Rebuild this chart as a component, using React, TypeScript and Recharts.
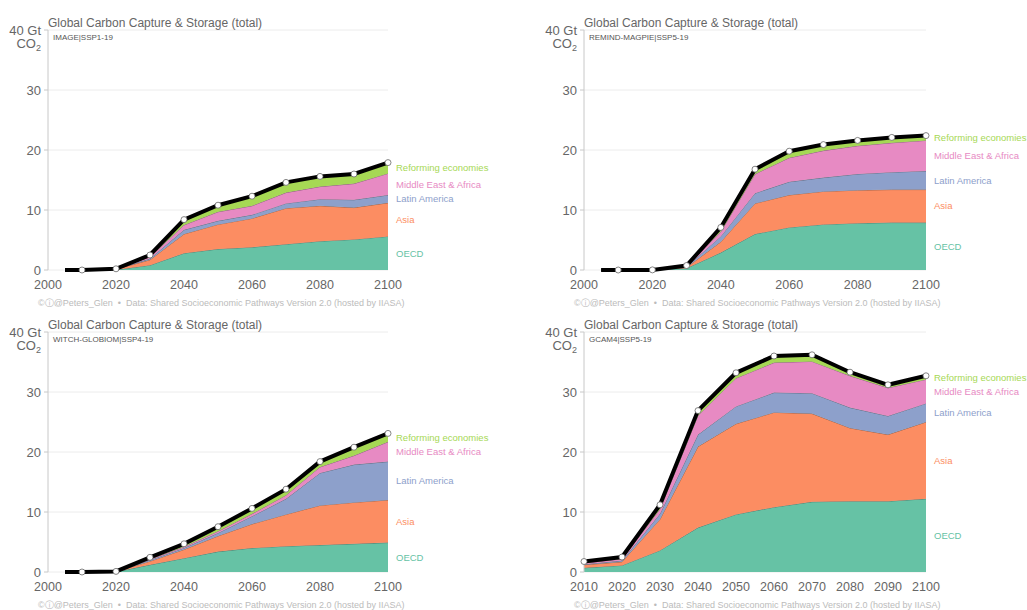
import React from 'react';
import { ComposedChart, Area, Line, XAxis, YAxis, CartesianGrid, ReferenceDot } from 'recharts';

// regions, bottom to top of the stack
const regions = ['OECD', 'Asia', 'Latin America', 'Middle East & Africa', 'Reforming economies'];
const regionColors = ['#66c2a5', '#fc8d62', '#8da0cb', '#e78ac3', '#a6d854'];

const yTicks = [0, 10, 20, 30, 40];

// IMAGE|SSP1-19
const imageYears = [2005, 2010, 2020, 2030, 2040, 2050, 2060, 2070, 2080, 2090, 2100];
const imageOecd = [0, 0, 0.05, 0.8, 2.8, 3.5, 3.8, 4.3, 4.8, 5.1, 5.6];
const imageAsia = [0, 0, 0.1, 0.9, 3.2, 4.1, 4.8, 6.0, 5.9, 5.3, 5.6];
const imageLatam = [0, 0, 0.02, 0.2, 0.7, 0.6, 0.6, 0.8, 1.1, 1.3, 1.3];
const imageMea = [0, 0, 0.02, 0.3, 0.8, 1.5, 1.5, 1.8, 2.1, 2.7, 3.6];
const imageRef = [0, 0, 0.01, 0.3, 0.9, 1.1, 1.6, 1.7, 1.7, 1.6, 1.8];

// REMIND-MAGPIE|SSP5-19
const remindYears = [2005, 2010, 2020, 2030, 2040, 2050, 2060, 2070, 2080, 2090, 2100];
const remindOecd = [0, 0, 0.01, 0.3, 2.9, 6.0, 7.1, 7.6, 7.8, 7.9, 7.9];
const remindAsia = [0, 0, 0.01, 0.15, 1.8, 5.1, 5.4, 5.5, 5.5, 5.5, 5.5];
const remindLatam = [0, 0, 0, 0.1, 0.9, 1.7, 2.2, 2.3, 2.7, 2.9, 3.1];
const remindMea = [0, 0, 0, 0.15, 0.8, 3.2, 4.0, 4.5, 4.7, 4.9, 5.1];
const remindRef = [0, 0, 0, 0.05, 0.7, 0.8, 1.1, 1.0, 0.9, 0.9, 0.8];

// WITCH-GLOBIOM|SSP4-19
const witchYears = [2005, 2010, 2020, 2030, 2040, 2050, 2060, 2070, 2080, 2090, 2100];
const witchOecd = [0, 0, 0.05, 1.2, 2.3, 3.4, 4.0, 4.3, 4.5, 4.7, 4.9];
const witchAsia = [0, 0, 0.03, 0.6, 1.45, 2.6, 4.0, 5.3, 6.6, 6.9, 7.1];
const witchLatam = [0, 0, 0.01, 0.2, 0.25, 0.5, 1.3, 2.6, 5.4, 6.3, 6.4];
const witchMea = [0, 0, 0.01, 0.15, 0.2, 0.3, 0.4, 0.6, 1.0, 1.5, 3.3];
const witchRef = [0, 0, 0, 0.3, 0.5, 0.75, 0.9, 1.0, 0.9, 1.4, 1.4];

// GCAM4|SSP5-19
const gcamYears = [2010, 2020, 2030, 2040, 2050, 2060, 2070, 2080, 2090, 2100];
const gcamOecd = [0.7, 1.1, 3.6, 7.4, 9.6, 10.8, 11.7, 11.8, 11.8, 12.2];
const gcamAsia = [0.5, 0.6, 5.2, 13.5, 15.1, 15.8, 14.7, 12.2, 11.1, 12.8];
const gcamLatam = [0.1, 0.2, 0.9, 2.0, 2.9, 3.3, 3.4, 3.4, 3.1, 3.1];
const gcamMea = [0.2, 0.3, 0.8, 3.2, 4.7, 5.0, 5.3, 5.3, 4.7, 4.0];
const gcamRef = [0.25, 0.3, 0.7, 0.8, 0.9, 1.1, 1.1, 0.6, 0.5, 0.6];

const font = '"Liberation Sans", Arial, Helvetica, sans-serif';
const footerText = '\u00a9\u24d8@Peters_Glen  \u2022  Data: Shared Socioeconomic Pathways Version 2.0 (hosted by IIASA)';

const buildRows = (years: number[], series: number[][]) =>
  years.map((year, i) => {
    const row: any = { year };
    let total = 0;
    series.forEach((s, k) => {
      row['r' + k] = s[i];
      total += s[i];
    });
    row.total = total;
    return row;
  });

const YTick = (props: any) => {
  const { x, y, payload } = props;
  if (payload.value === 40) {
    return (
      <g>
        <text x={x} y={y} dy={5} textAnchor="end" fontSize={13} fill="#666" fontFamily={font}>40 Gt</text>
        <text x={x} y={y} dy={18} textAnchor="end" fontSize={13} fill="#666" fontFamily={font}>
          CO<tspan fontSize={9} dy={3}>2</tspan>
        </text>
      </g>
    );
  }
  return (
    <text x={x} y={y} dy={5} textAnchor="end" fontSize={13} fill="#666" fontFamily={font}>
      {payload.value}
    </text>
  );
};

const TotalDot = (props: any) => {
  const { cx, cy, payload, index } = props;
  if (payload.year < 2010) return <g key={'d' + index} />;
  return <circle key={'d' + index} cx={cx} cy={cy} r={3} fill="#fff" stroke="#666" strokeWidth={0.8} />;
};

type PanelProps = {
  left: number;
  top: number;
  width: number;
  marginLeft: number;
  marginRight: number;
  subtitle: string;
  years: number[];
  series: number[][];
  xDomain: number[];
  xTicks: number[];
};

const Panel = ({ left, top, width, marginLeft, marginRight, subtitle, years, series, xDomain, xTicks }: PanelProps) => {
  const rows = buildRows(years, series);
  const last = years.length - 1;
  const plotLeft = marginLeft + 40;
  const plotTop = 30;
  // label positions: middle of each band at the final year
  let base = 0;
  const mids = series.map((s) => {
    const m = base + s[last] / 2;
    base += s[last];
    return m;
  });

  return (
    <div style={{ position: 'absolute', left, top, width, height: 310 }}>
      <ComposedChart
        width={width}
        height={310}
        data={rows}
        margin={{ top: plotTop, right: marginRight, bottom: 10, left: marginLeft }}
      >
        <CartesianGrid vertical={false} stroke="#ececec" />
        <XAxis
          dataKey="year"
          type="number"
          domain={xDomain}
          ticks={xTicks}
          axisLine={false}
          tickLine={false}
          height={30}
          tick={{ fontSize: 12.5, fill: '#666', fontFamily: font }}
          tickMargin={4}
        />
        <YAxis
          type="number"
          domain={[0, 40]}
          ticks={yTicks}
          width={40}
          axisLine={{ stroke: '#c8c8c8' }}
          tickLine={{ stroke: '#c8c8c8' }}
          tickSize={4}
          tickMargin={3}
          tick={<YTick />}
          interval={0}
        />
        {regions.map((name, k) => (
          <Area
            key={name}
            dataKey={'r' + k}
            name={name}
            stackId="a"
            type="linear"
            fill={regionColors[k]}
            fillOpacity={1}
            stroke="#333"
            strokeWidth={0.5}
            isAnimationActive={false}
            activeDot={false}
          />
        ))}
        <Line
          dataKey="total"
          type="linear"
          stroke="#000"
          strokeWidth={4}
          dot={TotalDot}
          activeDot={false}
          isAnimationActive={false}
        />
        {regions.map((name, k) => (
          <ReferenceDot
            key={'lab' + k}
            x={years[last]}
            y={mids[k]}
            r={0}
            fill="none"
            stroke="none"
            ifOverflow="visible"
            label={{ value: name, position: 'right', offset: 8, fill: regionColors[k], fontSize: 9.5, fontFamily: font }}
          />
        ))}
      </ComposedChart>
      <div
        style={{
          position: 'absolute', left: plotLeft, top: plotTop - 15, fontFamily: font, fontSize: 12,
          color: '#666', whiteSpace: 'nowrap', lineHeight: '16px',
        }}
      >
        Global Carbon Capture &amp; Storage (total)
      </div>
      <div
        style={{
          position: 'absolute', left: plotLeft + 5, top: plotTop + 3, fontFamily: font, fontSize: 8,
          color: '#555', whiteSpace: 'nowrap', lineHeight: '10px',
        }}
      >
        {subtitle}
      </div>
      <div
        style={{
          position: 'absolute', left: plotLeft - 10, top: 297, fontFamily: font, fontSize: 9,
          color: '#bbb', whiteSpace: 'pre', lineHeight: '12px',
        }}
      >
        {footerText}
      </div>
    </div>
  );
};

const decadeTicks = [2000, 2020, 2040, 2060, 2080, 2100];
const tenTicks = [2010, 2020, 2030, 2040, 2050, 2060, 2070, 2080, 2090, 2100];

const App = () => {
  return (
    <div style={{ position: 'fixed', left: 0, top: 0, width: 1027, height: 610, background: '#fff', overflow: 'hidden' }}>
      <Panel
        left={0} top={0} width={513} marginLeft={8} marginRight={125}
        subtitle="IMAGE|SSP1-19"
        years={imageYears}
        series={[imageOecd, imageAsia, imageLatam, imageMea, imageRef]}
        xDomain={[2000, 2100]} xTicks={decadeTicks}
      />
      <Panel
        left={513} top={0} width={514} marginLeft={31} marginRight={101}
        subtitle="REMIND-MAGPIE|SSP5-19"
        years={remindYears}
        series={[remindOecd, remindAsia, remindLatam, remindMea, remindRef]}
        xDomain={[2000, 2100]} xTicks={decadeTicks}
      />
      <Panel
        left={0} top={302} width={513} marginLeft={8} marginRight={125}
        subtitle="WITCH-GLOBIOM|SSP4-19"
        years={witchYears}
        series={[witchOecd, witchAsia, witchLatam, witchMea, witchRef]}
        xDomain={[2000, 2100]} xTicks={decadeTicks}
      />
      <Panel
        left={513} top={302} width={514} marginLeft={31} marginRight={101}
        subtitle="GCAM4|SSP5-19"
        years={gcamYears}
        series={[gcamOecd, gcamAsia, gcamLatam, gcamMea, gcamRef]}
        xDomain={[2010, 2100]} xTicks={tenTicks}
      />
    </div>
  );
};

export default App;
